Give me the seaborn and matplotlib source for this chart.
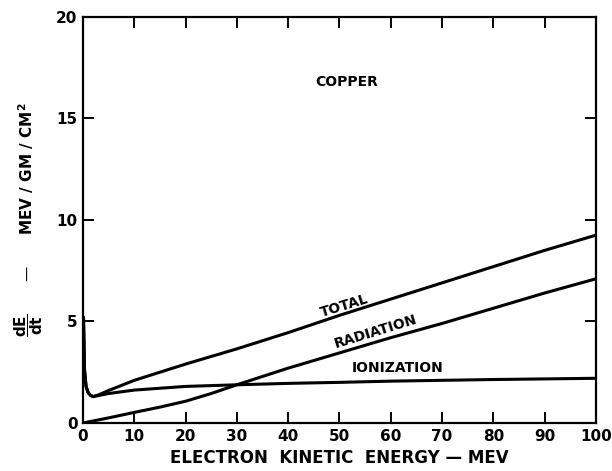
import numpy as np
import pandas as pd
import matplotlib
matplotlib.use("Agg")
import matplotlib.pyplot as plt
import seaborn as sns

# stopping power of electrons in copper
energy_total = [0.1, 0.3, 0.6, 1, 1.5, 2, 3, 5, 10, 20, 30, 40, 50, 60, 70, 80, 90, 100]
total = [5.2, 2.6, 1.8, 1.5, 1.35, 1.3, 1.38, 1.6, 2.1, 2.9, 3.65, 4.45, 5.3, 6.1, 6.9, 7.7, 8.5, 9.25]

energy_ion = [0.1, 0.3, 0.6, 1, 1.5, 2, 5, 10, 20, 30, 40, 50, 60, 70, 80, 90, 100]
ionization = [5.2, 2.6, 1.8, 1.5, 1.35, 1.3, 1.45, 1.62, 1.8, 1.88, 1.95, 2.0, 2.06, 2.1, 2.14, 2.17, 2.2]

energy_rad = [0, 5, 10, 15, 20, 25, 30, 40, 50, 60, 70, 80, 90, 100]
radiation = [0, 0.25, 0.52, 0.78, 1.07, 1.45, 1.88, 2.7, 3.45, 4.2, 4.9, 5.65, 6.4, 7.1]

x_ticks = [0, 10, 20, 30, 40, 50, 60, 70, 80, 90, 100]
y_ticks = [0, 5, 10, 15, 20]

sns.set_style("ticks")
plt.rcParams["font.family"] = ["DejaVu Sans"]
plt.rcParams["font.weight"] = "bold"
plt.rcParams["text.color"] = "black"
plt.rcParams["axes.labelcolor"] = "black"
plt.rcParams["xtick.color"] = "black"
plt.rcParams["ytick.color"] = "black"

fig = plt.figure(figsize=(6.12, 4.71), dpi=100)
ax = fig.add_axes([0.1356, 0.102, 0.838, 0.862])

for xs, ys in [(energy_total, total), (energy_ion, ionization), (energy_rad, radiation)]:
    sns.lineplot(x=xs, y=ys, ax=ax, color="black", linewidth=2.2, sort=False)

ax.set_xlim(0, 100)
ax.set_ylim(0, 20)
ax.set_xticks(x_ticks)
ax.set_yticks(y_ticks)
ax.tick_params(direction="in", length=8, width=1.4, top=True, right=True,
               labelsize=11, pad=4, colors="black")
for lab in ax.get_xticklabels() + ax.get_yticklabels():
    lab.set_fontweight("bold")
for sp in ax.spines.values():
    sp.set_linewidth(1.6)
    sp.set_color("black")

ax.set_xlabel("ELECTRON  KINETIC  ENERGY — MEV", fontsize=12, fontweight="bold", labelpad=4)
ax.set_ylabel(r"$\mathbf{\dfrac{dE}{dt}}$      —      MEV / GM / CM$^\mathbf{2}$",
              fontsize=11, fontweight="bold", labelpad=8)

ax.text(51.5, 16.8, "COPPER", fontsize=10, fontweight="bold", ha="center", va="center")
ax.text(51, 5.75, "TOTAL", fontsize=10, fontweight="bold", ha="center", va="center", rotation=17)
ax.text(57, 4.5, "RADIATION", fontsize=10, fontweight="bold", ha="center", va="center", rotation=17)
ax.text(61.4, 2.7, "IONIZATION", fontsize=10, fontweight="bold", ha="center", va="center")

fig.savefig("out.png", dpi=100)
